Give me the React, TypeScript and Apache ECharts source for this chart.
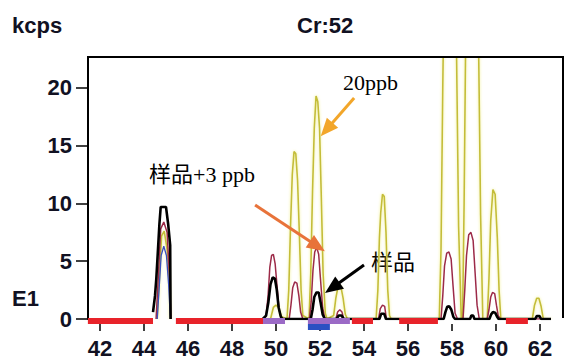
import React, { useEffect, useRef } from "react";
import * as echarts from "echarts";

// ---- data (mass in amu, intensity in kcps) ----
const X_TICKS = [42, 44, 46, 48, 50, 52, 54, 56, 58, 60, 62];
const Y_TICKS = [0, 5, 10, 15, 20];

// 20 ppb standard (yellow)
const STD_20PPB: any[] = [
  [44.6, 0], [44.7, 3.5], [44.8, 7.2], [44.92, 7.6], [45.05, 6], [45.15, 3], [45.2, 0], ["-", "-"],
  [49.4, 0], [49.75, 0], [49.88, 1.0], [50.0, 1.2], [50.12, 1.0], [50.25, 0.2], [50.5, 0],
  [50.58, 2.5], [50.66, 8], [50.74, 12.5], [50.82, 14.5], [50.9, 14.3], [50.98, 12], [51.06, 7.5], [51.14, 2.5], [51.22, 0.3],
  [51.5, 0], [51.58, 4], [51.66, 11], [51.74, 16.5], [51.82, 19.3], [51.9, 18.8], [51.98, 16.5], [52.06, 10.5], [52.14, 4], [52.24, 0.5], [52.32, 0],
  [52.62, 0.3], [52.72, 1.8], [52.82, 2.8], [52.95, 2.8], [53.05, 1.8], [53.15, 0.4], [53.25, 0],
  [54.55, 0], [54.63, 2.5], [54.7, 7], [54.76, 9.2], [54.84, 10.8], [54.92, 10.6], [55.0, 7.5], [55.08, 2.5], [55.16, 0.3], [55.24, 0],
  [57.42, 0], [57.5, 6], [57.58, 20], [57.7, 38], [57.88, 44], [58.05, 38], [58.2, 24], [58.3, 8], [58.42, 0],
  [58.48, 0], [58.55, 10], [58.62, 24], [58.75, 40], [58.9, 45], [59.05, 40], [59.2, 25], [59.3, 9], [59.4, 0],
  [59.6, 0], [59.68, 3.5], [59.76, 8.5], [59.86, 11.2], [59.96, 10.8], [60.06, 7], [60.14, 2.5], [60.22, 0],
  [61.65, 0], [61.75, 1.2], [61.85, 1.8], [61.95, 1.8], [62.05, 1.1], [62.15, 0], [62.5, 0],
];

// sample + 3 ppb (maroon)
const SAMPLE_PLUS3: any[] = [
  [44.55, 0], [44.66, 4], [44.76, 7.8], [44.9, 8.4], [45.05, 7.5], [45.15, 4], [45.22, 0], ["-", "-"],
  [49.4, 0], [49.55, 0.3], [49.64, 2], [49.72, 4.5], [49.8, 5.5], [49.88, 5.6], [49.96, 4.8], [50.05, 2.8], [50.14, 0.8], [50.25, 0],
  [50.6, 0], [50.68, 1.2], [50.76, 2.7], [50.85, 3.2], [50.95, 3.1], [51.04, 2], [51.12, 0.6], [51.22, 0],
  [51.52, 0], [51.6, 1.5], [51.68, 4.2], [51.76, 5.8], [51.85, 6.2], [51.94, 5.6], [52.02, 3.5], [52.12, 1], [52.22, 0],
  [52.72, 0], [52.8, 0.6], [52.9, 0.8], [53.0, 0.6], [53.08, 0],
  [54.66, 0], [54.74, 0.9], [54.84, 1.2], [54.94, 1.1], [55.02, 0],
  [57.5, 0], [57.58, 2], [57.66, 4.6], [57.76, 5.7], [57.86, 5.8], [57.96, 5.2], [58.05, 2.8], [58.14, 0.5], [58.25, 0],
  [58.5, 0], [58.58, 2.5], [58.66, 5.5], [58.76, 7.3], [58.86, 7.5], [58.96, 6.8], [59.05, 4], [59.14, 1.2], [59.24, 0],
  [59.6, 0], [59.68, 0.8], [59.76, 1.9], [59.84, 2.3], [59.94, 2.2], [60.02, 1.2], [60.1, 0.3], [60.2, 0],
  [62.5, 0],
];

// inner trace at m/z 45 (blue)
const TRACE_BLUE: any[] = [
  [44.6, 0], [44.7, 3], [44.78, 5.5], [44.9, 6.3], [45.02, 5.5], [45.12, 3], [45.2, 0],
];

// sample (black)
const SAMPLE: any[] = [
  [44.41, 0.6], [44.5, 2], [44.56, 3.5], [44.62, 5.5], [44.7, 8.2], [44.76, 9.7], [45.0, 9.7], [45.1, 8.2], [45.19, 6.4], [45.21, 0], ["-", "-"],
  [49.4, 0], [49.55, 0.3], [49.65, 1.4], [49.75, 3.0], [49.85, 3.6], [49.95, 3.5], [50.03, 2.6], [50.12, 1.0], [50.22, 0.2], [50.3, 0],
  [51.58, 0], [51.66, 0.8], [51.74, 1.9], [51.84, 2.3], [51.94, 2.3], [52.03, 1.4], [52.12, 0.4], [52.22, 0],
  [52.75, 0], [52.85, 0.3], [52.98, 0.3], [53.08, 0],
  [54.7, 0], [54.78, 0.45], [54.92, 0.45], [55.0, 0],
  [57.62, 0], [57.7, 0.6], [57.78, 1.05], [57.88, 1.1], [57.97, 0.8], [58.06, 0.2], [58.14, 0],
  [58.82, 0], [58.88, 0.3], [58.96, 0.3], [59.02, 0],
  [59.7, 0], [59.78, 0.4], [59.86, 0.6], [59.96, 0.55], [60.05, 0.2], [60.12, 0],
  [61.78, 0], [61.85, 0.25], [61.98, 0.25], [62.05, 0], [62.5, 0],
];

// integration windows on the baseline [start, end]
const WIN_RED = [[41.45, 44.41], [45.45, 49.41], [53.45, 54.41], [55.6, 57.36], [60.45, 61.45]];
const WIN_PURPLE = [[49.41, 50.41], [51.45, 53.36]];
const WIN_BLUE = [[51.45, 52.45]];

// annotation arrows [fromX, fromY, toX, toY]
const ARROW_20PPB = [53.55, 19.13, 52.3, 16.4];
const ARROW_PLUS3 = [49.05, 9.87, 51.88, 6.3];
const ARROW_SAMPLE = [54.0, 4.68, 52.56, 2.7];

// axis ranges
const X_MIN = 41.455;
const X_MAX = 63.045;
const Y_MAX = 22.68;

const SANS = "'Liberation Sans', Arial, sans-serif";
const SERIF = "'Liberation Serif', 'Times New Roman', 'Noto Sans CJK SC', serif";

const GRID = { left: 88, right: 4, top: 57, bottom: 42 };
const W = 567;
const H = 361;

function windowSeries(name: string, data: number[][], color: string, offset: number) {
  return {
    name,
    type: "custom",
    clip: false,
    z: 10,
    encode: { x: [0, 1], y: 2 },
    data: data.map((d) => [d[0], d[1], 0]),
    renderItem: (params: any, api: any) => {
      const s = api.coord([api.value(0), 0]);
      const e = api.coord([api.value(1), 0]);
      return {
        type: "rect",
        shape: { x: s[0], y: s[1] - 1 + offset, width: e[0] - s[0], height: 6 },
        style: { fill: color },
      };
    },
  };
}

function arrow(a: number[], color: string, size: number[]) {
  return [
    { coord: [a[0], a[1]], symbol: "none", lineStyle: { color, width: 3, type: "solid" } },
    { coord: [a[2], a[3]], symbol: "triangle", symbolSize: size },
  ];
}

export default function App() {
  const ref = useRef<HTMLDivElement>(null);
  useEffect(() => {
    if (!ref.current) return;
    const chart = echarts.init(ref.current, null, { renderer: "svg" });
    const tickFont = { fontSize: 22, fontWeight: "bold", fontFamily: SANS, color: "#111122" };
    chart.setOption({
      animation: false,
      backgroundColor: "#ffffff",
      grid: GRID,
      xAxis: {
        type: "value",
        min: X_MIN,
        max: X_MAX,
        offset: 5,
        axisLine: { show: false, onZero: false },
        splitLine: { show: false },
        axisTick: { show: true, length: 7, customValues: X_TICKS, lineStyle: { color: "#000", width: 1.5 } },
        axisLabel: { customValues: X_TICKS, margin: 13, ...tickFont },
      },
      yAxis: {
        type: "value",
        min: 0,
        max: Y_MAX,
        axisLine: { show: true, onZero: false, lineStyle: { color: "#000", width: 2 } },
        splitLine: { show: false },
        axisTick: { show: true, length: 12, customValues: Y_TICKS, lineStyle: { color: "#000", width: 1.5 } },
        axisLabel: { customValues: Y_TICKS, margin: 16, ...tickFont },
      },
      series: [
        {
          name: "20ppb",
          type: "line",
          data: STD_20PPB,
          showSymbol: false,
          symbol: "none",
          connectNulls: false,
          z: 2,
          lineStyle: { color: "#c4bd38", width: 1.6, shadowColor: "rgba(240,238,130,0.9)", shadowBlur: 3 },
        },
        {
          name: "样品+3 ppb",
          type: "line",
          data: SAMPLE_PLUS3,
          showSymbol: false,
          symbol: "none",
          connectNulls: false,
          z: 3,
          lineStyle: { color: "#9c2a48", width: 1.5 },
        },
        {
          name: "blue",
          type: "line",
          data: TRACE_BLUE,
          showSymbol: false,
          symbol: "none",
          z: 3,
          lineStyle: { color: "#3a4fc0", width: 1.3 },
        },
        {
          name: "样品",
          type: "line",
          data: SAMPLE,
          showSymbol: false,
          symbol: "none",
          connectNulls: false,
          z: 4,
          lineStyle: { color: "#000000", width: 2.6 },
          markLine: {
            silent: true,
            symbol: ["none", "triangle"],
            label: { show: false },
            lineStyle: { type: "solid", width: 3 },
            data: [
              arrow(ARROW_20PPB, "#f2a62a", [15, 18]),
              arrow(ARROW_PLUS3, "#e8733a", [15, 18]),
              arrow(ARROW_SAMPLE, "#000000", [15, 18]),
            ],
          },
        },
        windowSeries("red", WIN_RED, "#e8232a", 0),
        windowSeries("purple", WIN_PURPLE, "#9b6ac6", 0),
        windowSeries("blue-win", WIN_BLUE, "#2b50c2", 6),
      ],
      graphic: [
        { type: "text", x: 12, y: 25, style: { text: "kcps", font: `bold 22px ${SANS}`, fill: "#111122", verticalAlign: "middle" } },
        { type: "text", x: 297, y: 25, style: { text: "Cr:52", font: `bold 22px ${SANS}`, fill: "#111122", verticalAlign: "middle" } },
        { type: "text", x: 12, y: 298, style: { text: "E1", font: `bold 22px ${SANS}`, fill: "#111122", verticalAlign: "middle" } },
        { type: "text", x: 343, y: 82, style: { text: "20ppb", font: `22px ${SERIF}`, fill: "#000", verticalAlign: "middle" } },
        { type: "text", x: 149, y: 174, style: { text: "样品+3 ppb", font: `22px ${SERIF}`, fill: "#000", verticalAlign: "middle" } },
        { type: "text", x: 371, y: 262, style: { text: "样品", font: `22px ${SERIF}`, fill: "#000", verticalAlign: "middle" } },
      ],
    });
    return () => chart.dispose();
  }, []);
  return (
    <div style={{ position: "fixed", left: 0, top: 0, width: W, height: H, background: "#fff" }}>
      <div ref={ref} style={{ position: "absolute", left: 0, top: 0, width: W, height: H }} />
      <div
        style={{
          position: "absolute",
          left: GRID.left - 1,
          top: GRID.top - 1,
          width: W - GRID.right - GRID.left,
          height: H - GRID.bottom - GRID.top - 2,
          borderTop: "2px solid #000",
          borderRight: "2px solid #000",
          pointerEvents: "none",
        }}
      />
    </div>
  );
}
